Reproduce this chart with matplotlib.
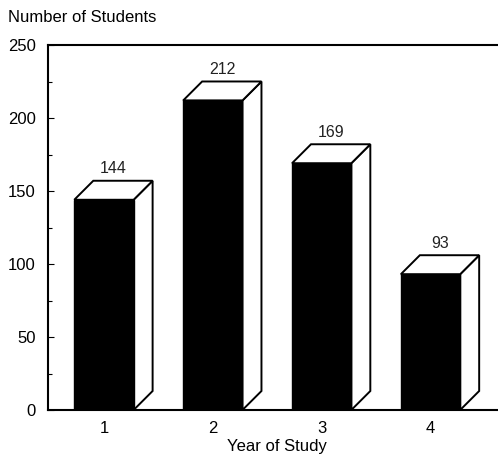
import matplotlib
matplotlib.use("Agg")
import matplotlib.pyplot as plt
from matplotlib.patches import Polygon
from matplotlib.ticker import MultipleLocator

years = [1, 2, 3, 4]
students = [144, 212, 169, 93]
x_label = "Year of Study"
y_label = "Number of Students"

plt.rcParams['font.family'] = ['Liberation Sans', 'DejaVu Sans']

W, H = 498, 462
fig = plt.figure(figsize=(W / 100, H / 100), dpi=100)
L, R, T, B = 48, 498, 45, 410
ax = fig.add_axes([L / W, (H - B) / H, (R - L) / W, (B - T) / H])

xmin, xmax = 0.486, 4.62
ymin, ymax = 0, 250
ax.set_xlim(xmin, xmax)
ax.set_ylim(ymin, ymax)

# pixel -> data conversions for the 3D depth offset
px_x = (xmax - xmin) / (R - L)
px_y = (ymax - ymin) / (B - T)
dx = 19 * px_x
dy = 19 * px_y
width = 0.545

for xv, v in zip(years, students):
    x0 = xv - width / 2
    x1 = xv + width / 2
    # side face
    ax.add_patch(Polygon([(x1, 0), (x1 + dx, dy), (x1 + dx, v + dy), (x1, v)],
                         closed=True, facecolor='white', edgecolor='black',
                         linewidth=1.4, zorder=2, clip_on=False))
    # top face
    ax.add_patch(Polygon([(x0, v), (x1, v), (x1 + dx, v + dy), (x0 + dx, v + dy)],
                         closed=True, facecolor='white', edgecolor='black',
                         linewidth=1.4, zorder=2, clip_on=False))
    # front face
    ax.bar(xv, v, width=width, color='black', edgecolor='black', linewidth=1.0, zorder=3)
    ax.text(xv + dx / 2, v + dy + 3, str(v), ha='center', va='bottom',
            fontsize=11.5, color='#222222', zorder=4)

for s in ['left', 'bottom', 'top']:
    ax.spines[s].set_linewidth(1.5)
ax.spines['right'].set_visible(False)

ax.yaxis.set_major_locator(MultipleLocator(50))
ax.yaxis.set_minor_locator(MultipleLocator(25))
ax.tick_params(axis='y', which='major', direction='in', length=4, width=0.8,
               labelsize=12, pad=9)
ax.tick_params(axis='y', which='minor', direction='in', length=3, width=0.8)
ax.set_xticks(years)
ax.set_xticklabels([str(y) for y in years])
ax.tick_params(axis='x', length=0, labelsize=12, pad=8)

ax.set_xlabel(x_label, fontsize=12)
ax.xaxis.set_label_coords((277 - L) / (R - L), -(439 - B) / (B - T), transform=ax.transAxes)
fig.text(8 / W, 1 - 18 / H, y_label, ha='left', va='center', fontsize=12)

fig.savefig("out.png", dpi=100)
